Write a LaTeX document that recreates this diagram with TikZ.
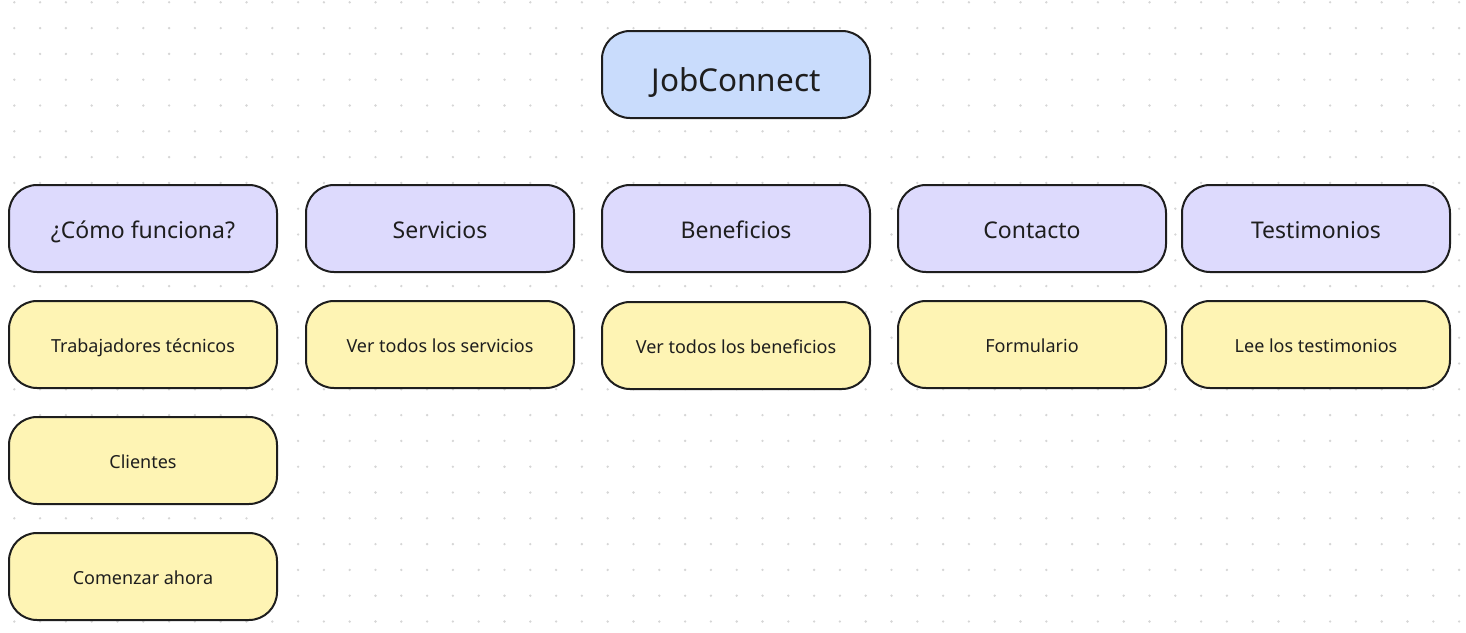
\documentclass[tikz,border=0pt]{standalone}
\usepackage{fontspec}
\setmainfont{Noto Sans}
\definecolor{gridc}{HTML}{D6D6D6}
\definecolor{rootc}{HTML}{C9DCFC}
\definecolor{secc}{HTML}{DDDAFD}
\definecolor{itemc}{HTML}{FEF4B4}
\definecolor{linec}{HTML}{1E1E1E}
\definecolor{textc}{HTML}{1E1E1E}
\begin{document}
\begin{tikzpicture}[x=1pt,y=-1pt,
  box/.style={draw=linec,line width=2pt,rounded corners=28pt,minimum width=268pt,minimum height=87pt,inner sep=0pt,text=textc},
  rootbox/.style={box,fill=rootc,font=\fontsize{31.5}{36}\selectfont,text height=36pt,text depth=2pt},
  secbox/.style={box,fill=secc,font=\fontsize{23}{27}\selectfont,text height=23pt,text depth=3.4pt},
  itembox/.style={box,fill=itemc,font=\fontsize{18}{21}\selectfont,text height=18pt,text depth=2.6pt}]
\useasboundingbox (0,0) rectangle (1466,632);
\fill[white] (0,0) rectangle (1466,632);
\foreach \i in {0,...,56}{
  \foreach \j in {0,...,24}{
    \fill[gridc] (14.3+25.8*\i,2.3+25.8*\j) circle (1.3pt);
  }
}
\node[rootbox] (root) at (736,74.5) {JobConnect};
\node[secbox] (como) at (143,228.5) {¿Cómo funciona?};
\node[secbox] (serv) at (440,228.5) {Servicios};
\node[secbox] (bene) at (736,228.5) {Beneficios};
\node[secbox] (cont) at (1032,228.5) {Contacto};
\node[secbox] (test) at (1316,228.5) {Testimonios};
\node[itembox] (trab) at (143,344.5) {Trabajadores técnicos};
\node[itembox] (vers) at (440,344.5) {Ver todos los servicios};
\node[itembox] (verb) at (736,345.5) {Ver todos los beneficios};
\node[itembox] (form) at (1032,344.5) {Formulario};
\node[itembox] (leet) at (1316,344.5) {Lee los testimonios};
\node[itembox] (clie) at (143,460.5) {Clientes};
\node[itembox] (come) at (143,576.5) {Comenzar ahora};
\end{tikzpicture}
\end{document}
